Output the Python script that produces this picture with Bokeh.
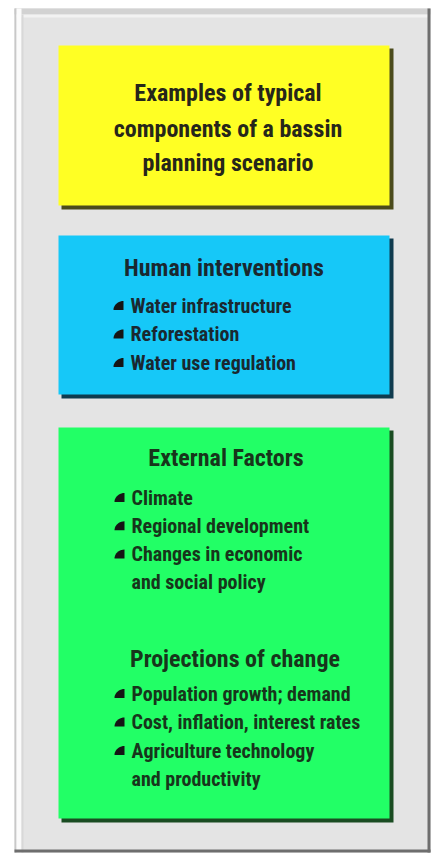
import math
from bokeh.plotting import figure
from bokeh.models import Range1d
from bokeh.core.properties import value
from bokeh.embed import file_html
from bokeh.resources import INLINE

# ---- content ----
title_lines = ["Examples of typical", "components of a bassin", "planning scenario"]
human_title = "Human interventions"
human_items = [["Water infrastructure"], ["Reforestation"], ["Water use regulation"]]
external_title = "External Factors"
external_items = [["Climate"], ["Regional development"], ["Changes in economic", "and social policy"]]
projection_title = "Projections of change"
projection_items = [["Population growth; demand"], ["Cost, inflation, interest rates"],
                    ["Agriculture technology", "and productivity"]]

FONT = value("'Roboto Condensed', 'DejaVu Sans Condensed', 'Liberation Sans Narrow', Roboto, sans-serif")

W, H = 432, 853
p = figure(width=W, height=H, output_backend="svg", toolbar_location=None,
           x_range=Range1d(0, W), y_range=Range1d(H, 0),
           min_border=0, outline_line_color=None, background_fill_color="white",
           border_fill_color="white")
p.axis.visible = False
p.grid.visible = False

# ---- outer bevelled panel ----
PL, PR, PT, PB = 14, 430, 8, 852
p.quad(left=[PL], right=[PR], top=[PT], bottom=[PB], fill_color="#e4e4e4", line_color=None)
p.quad(left=[PL], right=[PR], top=[PT], bottom=[PT + 6], fill_color="#d2d2d2", line_color=None)
p.quad(left=[PL], right=[PR], top=[PT + 6], bottom=[PT + 9], fill_color="#f2f2f2", line_color=None)
p.quad(left=[PL], right=[PL + 2], top=[PT], bottom=[PB], fill_color="#c8c8c8", line_color=None)
p.quad(left=[PL + 2], right=[PL + 7], top=[PT], bottom=[PB], fill_color="#fbfbfb", line_color=None)
p.quad(left=[PL + 7], right=[PL + 9], top=[PT + 6], bottom=[PB], fill_color="#d8d8d8", line_color=None)
p.quad(left=[PR - 3], right=[PR], top=[PT], bottom=[PB], fill_color="#6e6e6e", line_color=None)
p.quad(left=[PL], right=[PR], top=[PB - 3], bottom=[PB], fill_color="#6e6e6e", line_color=None)

# ---- boxes ----
BL, BR = 58, 389
boxes = [
    (45, 205, "#ffff24", "#4b4b1c"),
    (235, 394, "#16c8f8", "#0f3b4e"),
    (427, 818, "#22ff66", "#1a4c22"),
]
for top, bot, fill, shade in boxes:
    p.quad(left=[BL + 3], right=[BR + 4], top=[top + 3], bottom=[bot + 4],
           fill_color=shade, line_color=None)
    p.quad(left=[BL], right=[BR], top=[top], bottom=[bot], fill_color=fill, line_color=None)

CX = (BL + BR) / 2

def centered(lines, ys, color, size, dx=0):
    p.text(x=[CX + dx] * len(lines), y=ys, text=lines, text_font=FONT, text_font_style="bold",
           text_font_size=size, text_color=color, text_align="center", text_baseline="middle")

def bullet_list(items, y0, step, tx, color, size):
    xs, ys, txt = [], [], []
    bx, by = [], []
    y = y0
    for item in items:
        bx.append(tx - 7)
        by.append(y)
        for line in item:
            xs.append(tx); ys.append(y); txt.append(line)
            y += step
    p.text(x=xs, y=ys, text=txt, text_font=FONT, text_font_style="bold",
           text_font_size=size, text_color=color, text_align="left", text_baseline="middle")
    pxs, pys = [], []
    for cx, cy in zip(bx, by):
        r_x, r_y = 10, 9
        x_r, y_b = cx, cy + 4.5
        ptsx, ptsy = [x_r - r_x, x_r], [y_b, y_b]
        ptsx.append(x_r); ptsy.append(y_b - r_y)
        for k in range(0, 11):
            a = math.pi / 2 + k * (math.pi / 2) / 10
            ptsx.append(x_r + r_x * math.cos(a)); ptsy.append(y_b - r_y * math.sin(a))
        pxs.append(ptsx); pys.append(ptsy)
    p.patches(xs=pxs, ys=pys, fill_color="#151515", line_color=None)

centered(title_lines, [92, 128, 162], "#26261a", "24px", dx=4)
centered([human_title], [267], "#1a2830", "24px")
bullet_list(human_items, 305, 28.5, 130, "#1a2830", "20px")
centered([external_title], [457], "#17351b", "24px", dx=2)
bullet_list(external_items, 497, 28.3, 131, "#17351b", "20px")
centered([projection_title], [658], "#17351b", "24px", dx=11)
bullet_list(projection_items, 693, 28.5, 131, "#17351b", "20px")

open("out.html", "w").write(file_html(p, INLINE))
